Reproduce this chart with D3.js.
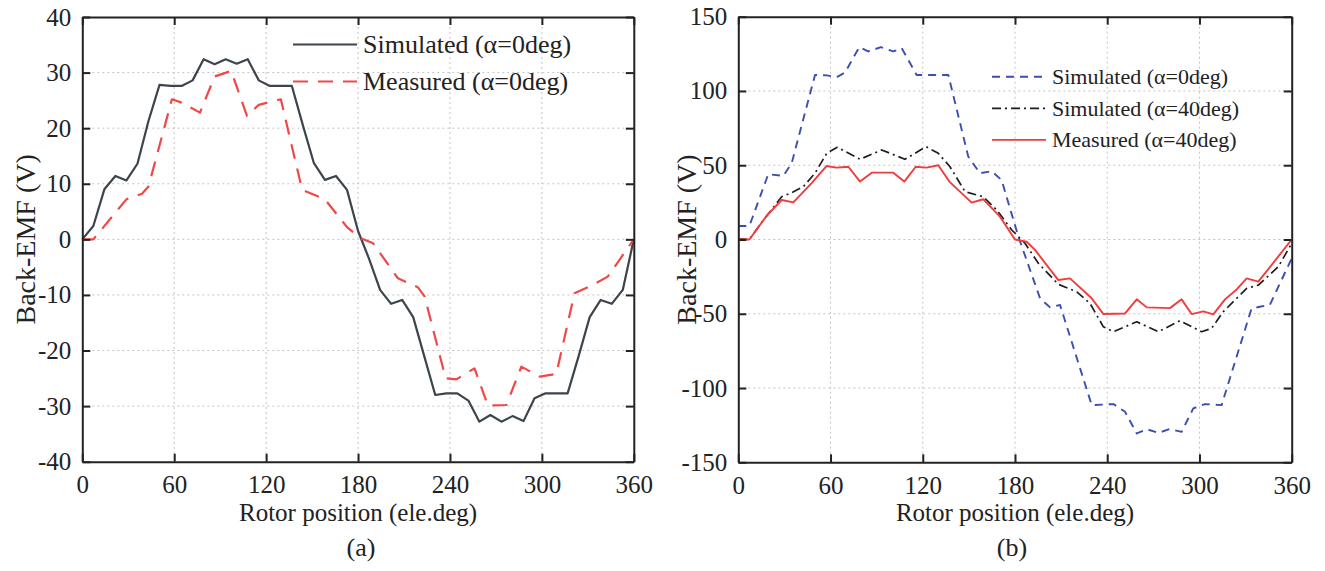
<!DOCTYPE html>
<html>
<head>
<meta charset="utf-8">
<script src="https://cdn.jsdelivr.net/npm/d3@7"></script>
<style>
    body { margin: 0; background: #fff; }
    svg { display: block; }
    text { font-family: "Liberation Serif", "Times New Roman", serif; fill: #222; }
</style>
</head>
<body>
<div id="chart"></div>
<script>
// x ticks shared by both panels
const xTicks = [0, 60, 120, 180, 240, 300, 360];
const yTicksA = [-40, -30, -20, -10, 0, 10, 20, 30, 40];
const yTicksB = [-150, -100, -50, 0, 50, 100, 150];

// panel (a): [rotor position, back-emf]
const simulatedA0 = [
    [0, 0], [7.2, 2.4], [14.4, 9.0], [21.6, 11.4], [28.8, 10.6], [36, 13.6], [43.2, 21.3], [50.4, 27.8],
    [57.6, 27.6], [64.8, 27.6], [72, 28.6], [79.2, 32.4], [86.4, 31.5], [93.6, 32.4], [100.8, 31.6],
    [108, 32.4], [115.2, 28.6], [122.4, 27.6], [129.6, 27.6], [136.8, 27.6], [144, 20.5], [151.2, 13.7],
    [158.4, 10.7], [165.6, 11.4], [172.8, 8.9], [180, 1.5], [187.2, -3.5], [194.4, -9.1], [201.6, -11.6],
    [208.8, -10.9], [216, -14.0], [223.2, -21.0], [230.4, -28.0], [237.6, -27.7], [244.8, -27.7],
    [252, -29.0], [259.2, -32.8], [266.4, -31.6], [273.6, -32.8], [280.8, -31.8], [288, -32.7],
    [295.2, -28.6], [302.4, -27.7], [309.6, -27.7], [316.8, -27.7], [324, -21.0], [331.2, -14.0],
    [338.4, -10.9], [345.6, -11.6], [352.8, -9.1], [360, 0]
];
const measuredA0 = [
    [0, 0], [7.2, 0], [28.8, 7.2], [39, 8.2], [43.2, 9.5], [58.5, 25.2], [64.8, 24.6], [76.8, 22.8],
    [86.4, 29.3], [97.2, 30.3], [107.5, 22.2], [115.2, 24.2], [129.6, 25.2], [143.5, 8.9], [158.4, 7.2],
    [172.8, 2.2], [181, 0.3], [189.8, -0.7], [206, -7.0], [219, -8.6], [223.5, -10.3], [237.2, -25.0],
    [244.2, -25.2], [256, -23.2], [264.8, -29.9], [276.8, -29.8], [286.6, -22.9], [298.5, -24.7],
    [309.4, -24.2], [321.3, -9.7], [333.3, -8.2], [343, -6.7], [360, 0]
];

// panel (b)
const simulatedB0 = [
    [0, 9.1], [7.2, 9.1], [19.5, 44], [29.3, 42.8], [34.7, 51.3], [49.9, 110.8], [57.6, 110.5],
    [64, 109.3], [69.4, 112.4], [78.7, 129.5], [84.6, 126.6], [92.8, 129.5], [100.8, 126.6],
    [106.3, 128.8], [116, 110.8], [136.6, 110.8], [149.6, 55.8], [157.2, 44.6], [164.8, 46],
    [171.3, 40], [182.2, 1.9], [196.3, -39.6], [202.8, -45.7], [209.3, -44.1], [229.9, -111.5],
    [244, -110.8], [251.6, -116], [259.2, -130.6], [265.7, -127.7], [273.2, -130.2], [280.5, -127.7],
    [288.4, -129.5], [296, -113.7], [303.6, -110.8], [314.4, -111.5], [333.9, -46.4], [339.3, -45.3],
    [345.8, -44], [360, -12.7]
];
const simulatedB40 = [
    [0, 0.5], [7.2, 0], [16.3, 13], [28.2, 28.8], [34.7, 31.5], [42.3, 35.6], [49.9, 44.6], [57.5, 58],
    [64.4, 62.1], [79.2, 54], [93.3, 60.3], [108.4, 54], [122.1, 62.5], [130.1, 58], [137.7, 49],
    [147.5, 32.2], [159.4, 28.8], [168.1, 19.9], [177.9, 6.4], [186.4, -2.4], [195.2, -16],
    [208.2, -30.2], [220.2, -35.2], [228.8, -43], [237.5, -58.8], [244, -62.1], [259.2, -55.4],
    [273.2, -62.1], [287.3, -54.7], [301.4, -62.1], [307.9, -59.8], [315.5, -48.6], [330.7, -32.9],
    [338.3, -30.7], [351.3, -18.3], [360, -2.6]
];
const measuredB40 = [
    [0, 0], [7.2, 0], [18.5, 16], [28.2, 26.6], [35.8, 25], [47.7, 37.9], [57.5, 49.5], [63.7, 48.4],
    [71.6, 49], [79.2, 39], [86.8, 45], [100.8, 45], [108, 39], [115.4, 49], [122.5, 48.4],
    [130.1, 50], [137.3, 39], [151.8, 24.8], [159.4, 27.1], [170.2, 15.4], [180, 0], [187.6, -1.5],
    [193, -7], [208.2, -27.3], [215.8, -26.2], [229.9, -39.6], [237.5, -50.2], [251.6, -49.8],
    [259.2, -40.3], [265.7, -45.7], [280.8, -46.2], [288.4, -40.3], [294.9, -50.2], [302.5, -48.4],
    [309, -50.4], [316.6, -40.3], [324.2, -33.6], [330.7, -26.2], [338.3, -28.4], [360, 0]
];

const svg = d3.select("#chart").append("svg")
    .attr("width", 1325)
    .attr("height", 571);

class EmfPanel {
    constructor(opts) {
        this.opts = opts;
        this.initVis();
    }

    initVis() {
        let vis = this;
        let o = vis.opts;

        vis.x = d3.scaleLinear().domain([0, 360]).range([o.left, o.right]);
        vis.y = d3.scaleLinear().domain(o.yDomain).range([o.bottom, o.top]);

        vis.g = svg.append("g");

        // dotted grid
        vis.g.append("g").selectAll("line.gx")
            .data(xTicks.slice(1, -1))
            .enter().append("line")
            .attr("x1", d => vis.x(d)).attr("x2", d => vis.x(d))
            .attr("y1", o.top).attr("y2", o.bottom)
            .attr("stroke", "#c4c4c4").attr("stroke-width", 1).attr("stroke-dasharray", "2,3");
        vis.g.append("g").selectAll("line.gy")
            .data(o.yTicks.slice(1, -1))
            .enter().append("line")
            .attr("x1", o.left).attr("x2", o.right)
            .attr("y1", d => vis.y(d)).attr("y2", d => vis.y(d))
            .attr("stroke", "#c4c4c4").attr("stroke-width", 1).attr("stroke-dasharray", "2,3");

        // series
        let line = d3.line().x(d => vis.x(d[0])).y(d => vis.y(d[1]));
        o.series.forEach(s => {
            vis.g.append("path")
                .datum(s.data)
                .attr("d", line)
                .attr("fill", "none")
                .attr("stroke", s.color)
                .attr("stroke-width", s.width)
                .attr("stroke-dasharray", s.dash)
                .attr("stroke-linejoin", "round");
        });

        // axes, ticks point inward; plain hyphen for negatives like the original
        let fmt = d => String(d);
        let bottomAxis = d3.axisBottom(vis.x).tickValues(xTicks).tickSize(-8).tickSizeOuter(0).tickPadding(14).tickFormat(fmt);
        let topAxis = d3.axisTop(vis.x).tickValues(xTicks).tickSize(-8).tickSizeOuter(0).tickFormat("");
        let leftAxis = d3.axisLeft(vis.y).tickValues(o.yTicks).tickSize(-8).tickSizeOuter(0).tickPadding(11).tickFormat(fmt);
        let rightAxis = d3.axisRight(vis.y).tickValues(o.yTicks).tickSize(-8).tickSizeOuter(0).tickFormat("");

        [[bottomAxis, `translate(0,${o.bottom})`], [topAxis, `translate(0,${o.top})`],
         [leftAxis, `translate(${o.left},0)`], [rightAxis, `translate(${o.right},0)`]].forEach(a => {
            let ax = vis.g.append("g").attr("transform", a[1]).call(a[0]);
            ax.selectAll("path, line").attr("stroke", "#222").attr("stroke-width", 2);
            ax.selectAll("text")
                .style("font-family", '"Liberation Serif", "Times New Roman", serif')
                .style("font-size", "25px")
                .attr("fill", "#222");
        });

        // titles
        vis.g.append("text")
            .attr("x", (o.left + o.right) / 2).attr("y", 521)
            .attr("text-anchor", "middle")
            .style("font-size", "25px")
            .text("Rotor position (ele.deg)");
        vis.g.append("text")
            .attr("transform", `translate(${o.yTitleX},${(o.top + o.bottom) / 2}) rotate(-90)`)
            .attr("text-anchor", "middle")
            .style("font-size", "28px")
            .text("Back-EMF (V)");
        vis.g.append("text")
            .attr("x", o.captionX).attr("y", 556)
            .attr("text-anchor", "middle")
            .style("font-size", "26px")
            .text(o.caption);

        // legend
        let lg = o.legend;
        o.series.forEach((s, i) => {
            let yy = lg.y + i * lg.step;
            vis.g.append("line")
                .attr("x1", lg.x1).attr("x2", lg.x2)
                .attr("y1", yy).attr("y2", yy)
                .attr("stroke", s.color)
                .attr("stroke-width", s.width)
                .attr("stroke-dasharray", s.dash);
            vis.g.append("text")
                .attr("x", lg.x2 + 6).attr("y", yy + lg.size * 0.33)
                .style("font-size", lg.size + "px")
                .text(s.name);
        });
    }
}

new EmfPanel({
    left: 82.3, right: 633.8, top: 17, bottom: 461.7,
    yDomain: [-40, 40], yTicks: yTicksA,
    yTitleX: 35, captionX: 361, caption: "(a)",
    legend: { x1: 293, x2: 357, y: 44.5, step: 37, size: 26 },
    series: [
        { name: "Simulated (\u03b1=0deg)", data: simulatedA0, color: "#3d444b", width: 2.2, dash: null },
        { name: "Measured (\u03b1=0deg)", data: measuredA0, color: "#f04848", width: 2.2, dash: "15,10" }
    ]
});

new EmfPanel({
    left: 738.3, right: 1291.7, top: 16.7, bottom: 462.3,
    yDomain: [-150, 150], yTicks: yTicksB,
    yTitleX: 696, captionX: 1012, caption: "(b)",
    legend: { x1: 992, x2: 1046, y: 76.7, step: 31.6, size: 22 },
    series: [
        { name: "Simulated (\u03b1=0deg)", data: simulatedB0, color: "#3a4fae", width: 1.9, dash: "8,6" },
        { name: "Simulated (\u03b1=40deg)", data: simulatedB40, color: "#1e1e1e", width: 1.7, dash: "9,4,2,4" },
        { name: "Measured (\u03b1=40deg)", data: measuredB40, color: "#f03c3c", width: 1.9, dash: null }
    ]
});
</script>
</body>
</html>
